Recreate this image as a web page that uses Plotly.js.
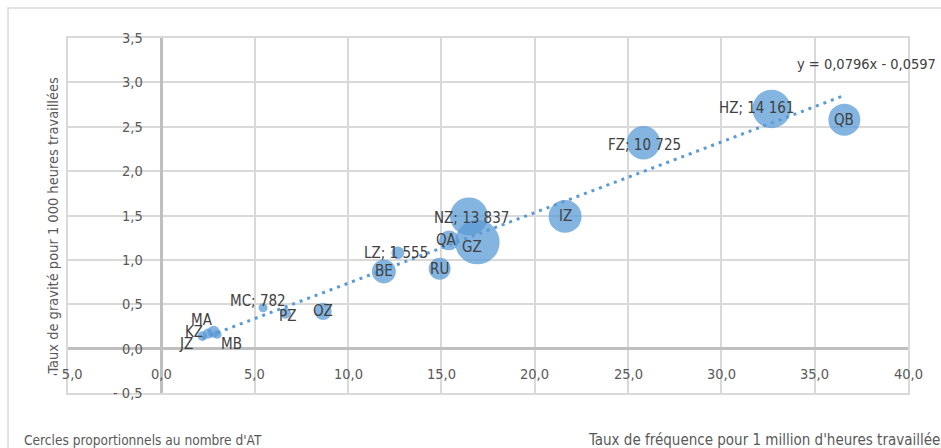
<!DOCTYPE html>
<html>
<head>
<meta charset="utf-8">
<script src="https://cdn.plot.ly/plotly-3.0.1.min.js"></script>
<style>html,body{margin:0;padding:0;background:#fff;}#chart{width:941px;height:448px;}</style>
</head>
<body>
<div id="chart"></div>
<script>
// ---- data ----
const names = ['JZ','KZ','MA','MB','MC','PZ','OZ','BE','LZ','RU','QA','NZ','GZ','IZ','FZ','HZ','QB'];
const freq  = [2.2, 2.5, 2.8, 3.0, 5.45, 6.65, 8.67, 11.92, 12.67, 14.91, 15.41, 16.48, 16.93, 21.63, 25.83, 32.69, 36.59];
const grav  = [0.14, 0.17, 0.19, 0.16, 0.46, 0.40, 0.42, 0.87, 1.08, 0.90, 1.22, 1.49, 1.20, 1.49, 2.32, 2.70, 2.58];
const nbAT  = [900, 1000, 1400, 700, 782, 1160, 2800, 5500, 1555, 4600, 3800, 13837, 19000, 10400, 10725, 14161, 9800];
const labels = ['JZ','KZ','MA','MB','MC; 782','PZ','OZ','BE','LZ; 1 555','RU','QA','NZ; 13 837','GZ','IZ','FZ; 10 725','HZ; 14 161','QB'];
const slope = 0.0796, intercept = -0.0597;
const eqText = 'y = 0,0796x - 0,0597';
const xTicks = [-5, 0, 5, 10, 15, 20, 25, 30, 35, 40];
const xTickText = ['- 5,0','0,0','5,0','10,0','15,0','20,0','25,0','30,0','35,0','40,0'];
const yTicks = [-0.5, 0, 0.5, 1, 1.5, 2, 2.5, 3, 3.5];
const yTickText = ['- 0,5','0,0','0,5','1,0','1,5','2,0','2,5','3,0','3,5'];
const yTitle = 'Taux de gravité pour 1 000 heures travaillées';
const xTitle = 'Taux de fréquence pour 1 million d\'heures travaillées';
const note = 'Cercles proportionnels au nombre d\'AT';

// ---- styling (label offsets in px) ----
const lblDx = [-16, -14, -12, 14, -5, 2, 0, 0, -2, 0, -2, 3, -5, 0, 1, -15, 0];
const lblDy = [-8, 2, 12, -10, 7, -3, 0, 0, 0, 0, 0, -2, -5, 0, -2, 1, 0];

const FONT = "'DejaVu Sans Condensed', 'Liberation Sans Narrow', sans-serif";
const blue = '#5b9bd5';

const xMin = Math.min(...freq), xMax = Math.max(...freq);

const bubbles = {
  type: 'scatter', mode: 'markers', x: freq, y: grav,
  marker: { size: nbAT, sizemode: 'area', sizeref: 19.2, color: blue, opacity: 0.75, line: {width: 0} },
  hoverinfo: 'skip', showlegend: false
};
const trend = {
  type: 'scatter', mode: 'lines', x: [xMin, xMax],
  y: [slope * xMin + intercept, slope * xMax + intercept],
  line: { color: blue, width: 3, dash: '3px,5px' },
  hoverinfo: 'skip', showlegend: false
};

const annotations = [];
const tickFont = { family: FONT, size: 14.5, color: '#595959' };
xTicks.forEach((v, i) => annotations.push({
  x: v, y: 0, xref: 'x', yref: 'y', text: xTickText[i], showarrow: false,
  xanchor: 'center', yanchor: 'middle', yshift: -25, font: tickFont
}));
yTicks.forEach((v, i) => annotations.push({
  x: 0, y: v, xref: 'x', yref: 'y', text: yTickText[i], showarrow: false,
  xanchor: 'right', yanchor: 'middle', xshift: -16, font: tickFont
}));
names.forEach((n, i) => annotations.push({
  x: freq[i], y: grav[i], xref: 'x', yref: 'y', text: labels[i], showarrow: false,
  xanchor: 'center', yanchor: 'middle', xshift: lblDx[i], yshift: lblDy[i],
  font: { family: FONT, size: 15, color: '#404040' }
}));
annotations.push({
  x: xMax, y: slope * xMax + intercept, xref: 'x', yref: 'y', text: eqText, showarrow: false,
  xanchor: 'left', yanchor: 'middle', xshift: -49, yshift: 31,
  font: { family: FONT, size: 14.5, color: '#404040' }
});
annotations.push({
  x: -0.019, y: 0.5, xref: 'paper', yref: 'paper', text: yTitle, showarrow: false,
  textangle: -90, xanchor: 'center', yanchor: 'middle', yshift: -10,
  font: { family: FONT, size: 14.5, color: '#595959' }
});
annotations.push({
  x: -0.0548, y: -0.132, xref: 'paper', yref: 'paper', text: note, showarrow: false,
  xanchor: 'left', yanchor: 'middle', font: { family: FONT, size: 13.6, color: '#595959' }
});
annotations.push({
  x: 0.617, y: -0.132, xref: 'paper', yref: 'paper', text: xTitle, showarrow: false,
  xanchor: 'left', yanchor: 'middle', font: { family: FONT, size: 15, color: '#595959' }
});

const axisCommon = {
  showticklabels: false, ticks: '', showgrid: true, gridcolor: '#d9d9d9', gridwidth: 2,
  zeroline: true, zerolinecolor: '#bfbfbf', zerolinewidth: 3,
  showline: true, linecolor: '#d9d9d9', linewidth: 2, mirror: true, fixedrange: true
};

const layout = {
  width: 941, height: 448,
  margin: { l: 68, r: 33, t: 38, b: 55 },
  paper_bgcolor: '#ffffff', plot_bgcolor: '#ffffff',
  xaxis: Object.assign({ range: [-5, 40], tickmode: 'array', tickvals: xTicks }, axisCommon),
  yaxis: Object.assign({ range: [-0.5, 3.5], tickmode: 'array', tickvals: yTicks }, axisCommon),
  annotations: annotations,
  shapes: [{
    type: 'rect', xref: 'paper', yref: 'paper', x0: -0.0714, x1: 1.2, y0: -0.3, y1: 1.0845,
    line: { color: '#d9d9d9', width: 1.5 }, fillcolor: 'rgba(0,0,0,0)', layer: 'below'
  }],
  showlegend: false
};

Plotly.newPlot('chart', [bubbles, trend], layout, { staticPlot: true, displayModeBar: false });
</script>
</body>
</html>
